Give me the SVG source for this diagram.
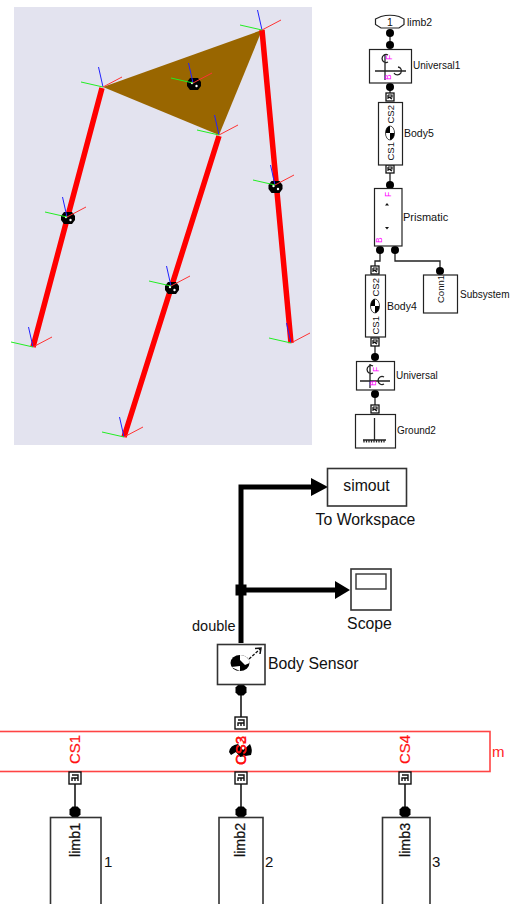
<svg xmlns="http://www.w3.org/2000/svg" width="515" height="904" viewBox="0 0 515 904">
<style>
text{font-family:"Liberation Sans",Arial,sans-serif;fill:#111}
.s{font-size:10.5px}.m{font-size:15.8px}.ln{font-size:14.3px;stroke:#111;stroke-width:.25}
.pink{fill:#f0f;font-size:8.5px}.cs{font-size:9.5px}
.red{fill:#f11;font-size:15px;stroke:#f11;stroke-width:.2}
.b{fill:#fff;stroke:#222;stroke-width:1.2}
.bl{fill:#fff;stroke:#333;stroke-width:1.6}
.w{fill:none;stroke:#222;stroke-width:1.3}
.wl{fill:none;stroke:#333;stroke-width:1.8}
.th{fill:none;stroke:#000;stroke-width:5}
.leg{stroke:#f00;stroke-width:5.500;fill:none}
.ax line{stroke-width:1.5;fill:none}
</style>
<defs>
<circle id="dot" r="4" fill="#000"/>
<path id="dotL" d="M-2.500-5.500H2.500L5.500-2.500V2.500L2.500 5.500H-2.500L-5.500 2.500V-2.500Z" fill="#000"/>
<g id="port"><rect x="-4" y="-4" width="8" height="8" fill="#fff" stroke="#111" stroke-width="1.3"/><path d="M-2-2V2M-2-2H2V0H-1L2 2" fill="none" stroke="#111" stroke-width="1.2"/></g>
<g id="portL"><rect x="-6" y="-6" width="12" height="12" fill="#fff" stroke="#111" stroke-width="1.4"/><path d="M-3-3H3V3M3-3V0H-3V3M0 0V3" fill="none" stroke="#111" stroke-width="1.400"/></g>
<g id="ball"><ellipse rx="4.500" ry="7" fill="#000"/><path d="M0-7A4.500 7 0 0 1 4.500 0H0ZM0 0H-4.500A4.500 7 0 0 0 0 7Z" fill="#fff"/><ellipse rx="4.500" ry="7" fill="none" stroke="#000" stroke-width=".6"/></g>
<g id="ax"><line x2="-4.5" y2="-20" stroke="#22f"/><line x2="-22" y2="-5" stroke="#2e2"/><line x2="19" y2="-10" stroke="#f33"/></g>
<g id="cg"><path d="M-4-6H4L7-2V2L4 6H-4L-7 2V-2Z" fill="#000"/><circle cx="-2" cy="-1" r="1.200" fill="#fff"/><circle cx="2.500" cy="2" r="1.200" fill="#fff"/></g>
</defs>

<g id="scene">
<rect x="14" y="7" width="298" height="438" fill="#e3e3ef"/>
<path d="M103 87L262 30L219 135Z" fill="#996600"/>
<path class="leg" d="M102 88L33 347M219 136L124 437M262 30L291 343"/>
<use href="#cg" x="194" y="84"/><use href="#cg" x="275.500" y="187"/><use href="#cg" x="68" y="218"/><use href="#cg" x="172" y="288"/>
<g class="ax">
<use href="#ax" x="262" y="30"/><use href="#ax" x="103" y="87"/><use href="#ax" x="219" y="135"/><use href="#ax" x="193" y="83"/><use href="#ax" x="275" y="185"/><use href="#ax" x="67" y="217"/><use href="#ax" x="171" y="286"/><use href="#ax" x="33" y="347"/><use href="#ax" x="291" y="343"/><use href="#ax" x="124" y="437"/>
</g>
</g>

<g id="connectors">
<path class="w" d="M390 33V45M390 87V93M390 173V185M380 250V261H375V266M395 250V261H440V271M375 346V357M375 394V405"/>
<path class="th" d="M241 643V487H312M241 590H336"/>
<path d="M311 478L328 487L311 496Z M335 581L350 590L335 599Z" fill="#000"/>
<rect x="235.500" y="584.500" width="11" height="11" fill="#000"/>
<path class="wl" d="M241 690V717M75 784V812M241 784V812M405 784V812"/>
<use href="#dot" x="390" y="33"/><use href="#dot" x="390" y="45"/><use href="#dot" x="390" y="87"/><use href="#dot" x="390" y="185"/><use href="#dot" x="380" y="250"/><use href="#dot" x="395" y="250"/><use href="#dot" x="440" y="271"/><use href="#dot" x="375" y="357"/><use href="#dot" x="375" y="394"/>
<use href="#dotL" x="241" y="690"/><use href="#dotL" x="75" y="812"/><use href="#dotL" x="241" y="812"/><use href="#dotL" x="405" y="812"/>
<use href="#port" x="390" y="97"/><use href="#port" x="390" y="169"/><use href="#port" x="375" y="270"/><use href="#port" x="375" y="342"/><use href="#port" x="375" y="409"/>
</g>

<g id="limb2-port">
<path class="b" d="M375.500 19L381 16.500Q390 14 399 16.500L404 19V24.500L399 28H381L375.500 24.500Z"/>
<text x="390" y="25.500" class="s" text-anchor="middle">1</text>
<text x="407" y="26" class="s">limb2</text>
</g>
<g id="universal1">
<rect class="b" x="369.500" y="49.500" width="42" height="33.500"/>
<path class="w" d="M375 71H406M385 54V80M388 55A4 4 0 1 0 388 62M398 67A4 4 0 1 1 394 73"/>
<text class="pink" transform="translate(392 60) rotate(-90)">F</text>
<text class="pink" transform="translate(391 80) rotate(-90)">B</text>
<text x="413" y="69" class="s" style="font-size:10px">Universal1</text>
</g>
<g id="body5">
<rect class="b" x="378.500" y="102.500" width="24" height="62.500"/>
<text class="cs" transform="translate(393.500 123.500) rotate(-90)">CS2</text>
<use href="#ball" x="390" y="133"/>
<text class="cs" transform="translate(393.500 160.500) rotate(-90)">CS1</text>
<text x="404" y="137" class="s">Body5</text>
</g>
<g id="prismatic">
<rect class="b" x="374.500" y="188.500" width="27.500" height="57.500"/>
<text class="pink" transform="translate(391 197) rotate(-90)">F</text>
<path d="M385 205.500H389L387 203ZM385 227H389L387 229.500Z" fill="#111"/>
<text class="pink" transform="translate(382 243) rotate(-90)">B</text>
<text x="403" y="221" class="s" style="font-size:11px">Prismatic</text>
</g>
<g id="body4">
<rect class="b" x="365.500" y="275" width="20" height="62"/>
<text class="cs" transform="translate(378.500 296.500) rotate(-90)">CS2</text>
<use href="#ball" x="375" y="306"/>
<text class="cs" transform="translate(378.500 334.500) rotate(-90)">CS1</text>
<text x="387" y="310" class="s">Body4</text>
</g>
<g id="subsystem">
<rect class="b" x="423.500" y="275" width="34" height="38"/>
<text class="cs" transform="translate(443.500 303) rotate(-90)">Conn1</text>
<text x="460" y="298" class="s" style="font-size:10px">Subsystem</text>
</g>
<g id="universal">
<rect class="b" x="356.500" y="361.500" width="38" height="28.500"/>
<path class="w" d="M360 381H390M370 364V388M373 366A4 4 0 1 0 373 373M384 377A4 4 0 1 0 384 384"/>
<text class="pink" transform="translate(379 372) rotate(-90)">F</text>
<text class="pink" transform="translate(376 386) rotate(-90)">B</text>
<text x="396" y="379" class="s" style="font-size:10px">Universal</text>
</g>
<g id="ground2">
<rect class="b" x="355.500" y="414.500" width="40" height="33.500"/>
<path class="w" d="M374.500 418V440M363 440H386M364 440V442.500M366.500 440V442.500M369 440V442.500M371.500 440V442.500M374 440V442.500M376.500 440V442.500M379 440V442.500M381.500 440V442.500M384 440V442.500"/>
<text x="397" y="434" class="s" style="font-size:10px">Ground2</text>
</g>

<g id="to-workspace">
<rect class="bl" x="327.500" y="468.500" width="79" height="37.500"/>
<text x="366.500" y="491" class="m" text-anchor="middle">simout</text>
<text x="365.500" y="525" class="m" text-anchor="middle">To Workspace</text>
</g>
<g id="scope">
<rect class="bl" x="351" y="569" width="40" height="41"/>
<rect x="356" y="574" width="30" height="15" fill="#fff" stroke="#333" stroke-width="1.4"/>
<text x="369.500" y="629" class="m" text-anchor="middle">Scope</text>
</g>
<g id="double-label"><text x="192" y="631" class="ln" style="font-size:14.500px;stroke-width:0">double</text></g>
<g id="body-sensor">
<rect class="bl" x="217.500" y="644.500" width="47.500" height="40"/>
<ellipse cx="240" cy="663" rx="9.500" ry="8" fill="#000"/>
<path d="M240 655A9.500 8 0 0 1 249.500 663L245 665L240 660Z" fill="#fff"/>
<path d="M231 667L240 671V666Z" fill="#fff"/>
<path d="M249 659L260 649" stroke="#111" fill="none" stroke-width="1.300" stroke-dasharray="3 1.500"/>
<path d="M255 648.500L261 648L260 654" stroke="#111" fill="none" stroke-width="1.500"/>
<text x="268" y="669" class="m">Body Sensor</text>
</g>
<g id="m">
<rect x="-3" y="731.500" width="493" height="40" fill="#fff" stroke="#f44" stroke-width="1.600"/>
<text class="red" transform="translate(80 764) rotate(-90)">CS1</text>
<text class="red" transform="translate(410 764) rotate(-90)">CS4</text>
<path d="M229 752Q230 745 238 744L243 750L250 744Q253 750 251 755L240 757L236 752L231 755Z" fill="#000"/>
<text class="red" transform="translate(246 765) rotate(-90)">CS2</text>
<text class="red" transform="translate(246 765) rotate(-90)">CS3</text>
<text x="492" y="757" style="font-size:15px;fill:#f22">m</text>
<use href="#portL" x="241" y="723"/><use href="#portL" x="75" y="778"/><use href="#portL" x="241" y="778"/><use href="#portL" x="405" y="778"/>
</g>
<g id="limb1">
<rect class="bl" x="50.500" y="817.500" width="50.500" height="100"/>
<text class="ln" transform="translate(80 857) rotate(-90)">limb1</text>
<text x="104" y="867" class="ln" style="font-size:15px;stroke-width:0">1</text>
</g>
<g id="limb2">
<rect class="bl" x="219" y="817.500" width="44" height="100"/>
<text class="ln" transform="translate(245 857) rotate(-90)">limb2</text>
<text x="265" y="867" class="ln" style="font-size:15px;stroke-width:0">2</text>
</g>
<g id="limb3">
<rect class="bl" x="382.500" y="817.500" width="47.500" height="100"/>
<text class="ln" transform="translate(410 857) rotate(-90)">limb3</text>
<text x="432" y="867" class="ln" style="font-size:15px;stroke-width:0">3</text>
</g>
</svg>
